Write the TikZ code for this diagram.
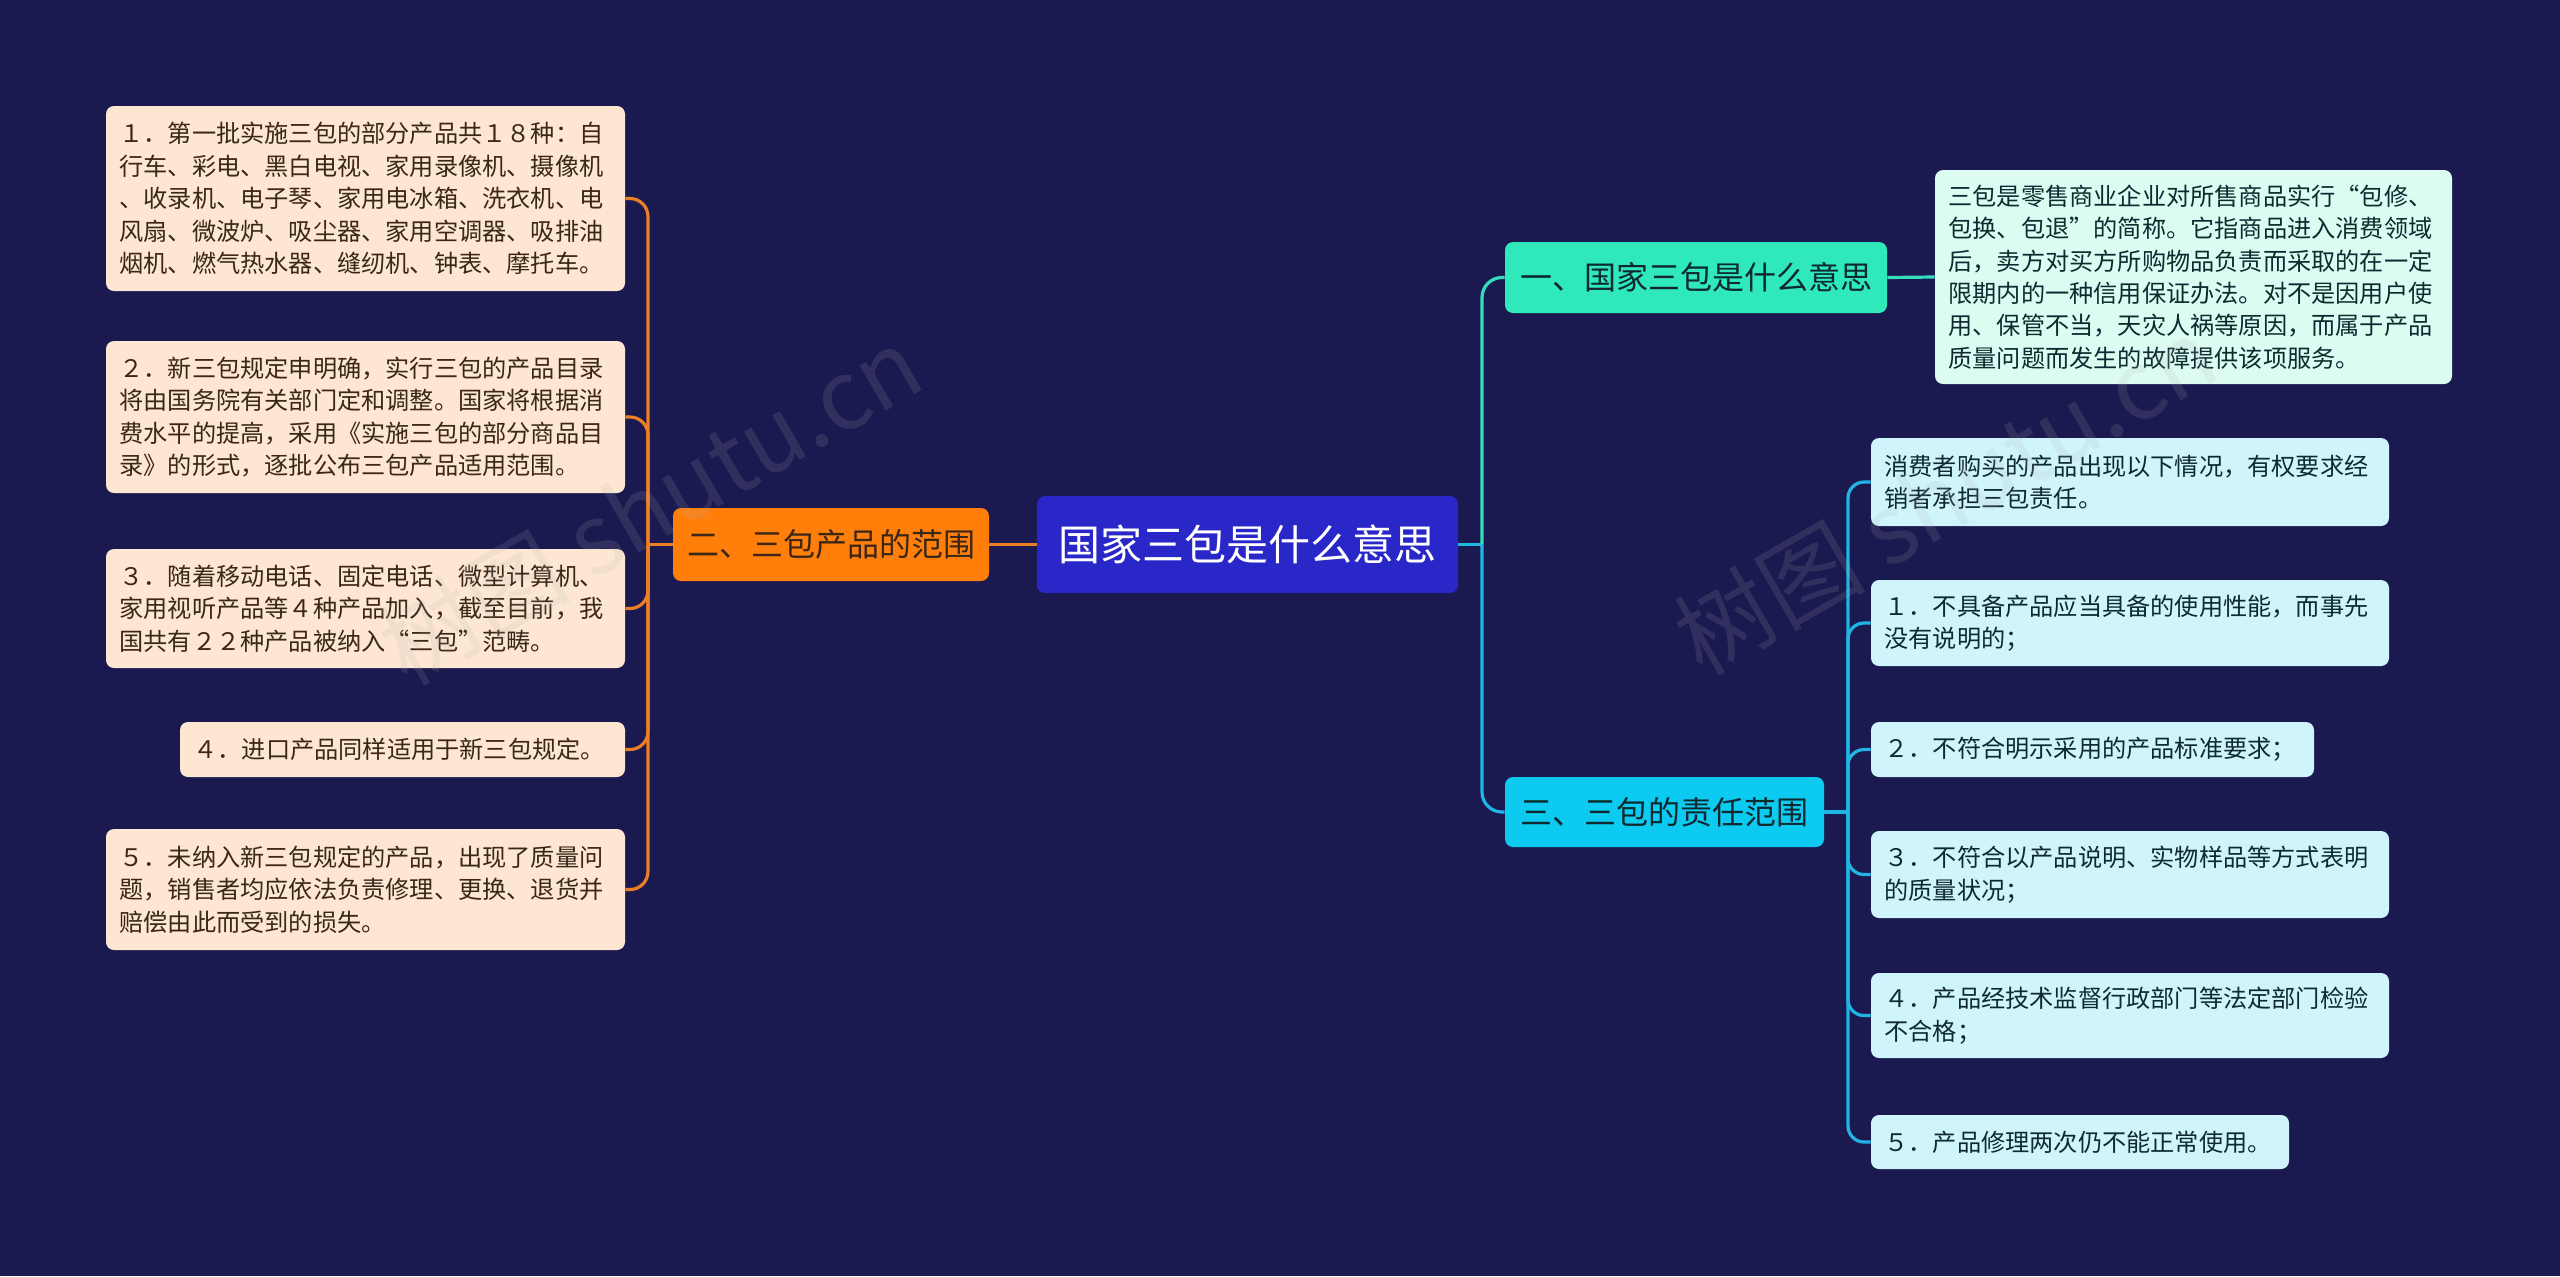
\documentclass[tikz,border=0pt]{standalone}
\usepackage{fontspec}
\newfontfamily\cjk{Noto Sans CJK SC}
\definecolor{bg}{HTML}{1A1950}
\definecolor{ctrfill}{HTML}{2A27C8}
\definecolor{orng}{HTML}{FF7F0A}
\definecolor{orline}{HTML}{EC7F26}
\definecolor{peach}{HTML}{FDE7D2}
\definecolor{brownT}{HTML}{3A2718}
\definecolor{grnfill}{HTML}{2FE9BA}
\definecolor{grline}{HTML}{34DDBD}
\definecolor{mint}{HTML}{DCFCF2}
\definecolor{cynfill}{HTML}{0CCAF0}
\definecolor{cyline}{HTML}{1FB6E6}
\definecolor{ice}{HTML}{CFF4FC}
\definecolor{darkT}{HTML}{0E2A30}
\tikzset{
  box/.style={rounded corners=4pt, inner ysep=0pt},
  leaftext/.style={font=\cjk\fontsize{12.1}{16.2}\selectfont, align=left, inner xsep=6.75pt},
  leafL/.style={box, leaftext, fill=peach, text=brownT},
  leafG/.style={box, leaftext, fill=mint, text=darkT},
  leafC/.style={box, leaftext, fill=ice, text=darkT},
  topic/.style={box, font=\cjk\fontsize{16}{19}\selectfont, inner xsep=0pt},
  oline/.style={draw=orline, line width=1.6pt},
  gline/.style={draw=grline, line width=1.6pt},
  cline/.style={draw=cyline, line width=1.6pt},
  wm/.style={font=\cjk\fontsize{48}{54}\selectfont, text=gray!60, opacity=0.15}
}
\begin{document}
\begin{tikzpicture}[x=0.5pt,y=-0.5pt]
\fill[bg] (0,0) rectangle (2560,1276);
\useasboundingbox (0,0) rectangle (2560,1276);

% central node
\node[box, fill=ctrfill, text=white, font=\cjk\fontsize{21}{24}\selectfont,
      minimum width=210.5pt, minimum height=48.5pt] (ctr) at (1247.5,544.5) {国家三包是什么意思};

% main topics
\node[topic, fill=orng, text=brownT, minimum width=158pt, minimum height=36.5pt] (orn) at (831,544.5) {二、三包产品的范围};
\node[topic, fill=grnfill, text=darkT, minimum width=191pt, minimum height=35.5pt] (grn) at (1696,277.5) {一、国家三包是什么意思};
\node[topic, fill=cynfill, text=darkT, minimum width=159.5pt, minimum height=35pt] (cyn) at (1664.5,812) {三、三包的责任范围};

% left leaves
\node[leafL, text width=246pt, minimum height=92.5pt] (L1) at (365.5,198.5) {１．第一批实施三包的部分产品共１８种：自\\行车、彩电、黑白电视、家用录像机、摄像机\\、收录机、电子琴、家用电冰箱、洗衣机、电\\风扇、微波炉、吸尘器、家用空调器、吸排油\\烟机、燃气热水器、缝纫机、钟表、摩托车。};
\node[leafL, text width=246pt, minimum height=76pt] (L2) at (365.5,417) {２．新三包规定申明确，实行三包的产品目录\\将由国务院有关部门定和调整。国家将根据消\\费水平的提高，采用《实施三包的部分商品目\\录》的形式，逐批公布三包产品适用范围。};
\node[leafL, text width=246pt, minimum height=59.5pt] (L3) at (365.5,608.5) {３．随着移动电话、固定电话、微型计算机、\\家用视听产品等４种产品加入，截至目前，我\\国共有２２种产品被纳入“三包”范畴。};
\node[leafL, text width=209pt, minimum height=27.5pt] (L4) at (402.5,749.5) {４．进口产品同样适用于新三包规定。};
\node[leafL, text width=246pt, minimum height=60.5pt] (L5) at (365.5,889.5) {５．未纳入新三包规定的产品，出现了质量问\\题，销售者均应依法负责修理、更换、退货并\\赔偿由此而受到的损失。};

% green leaf
\node[leafG, text width=245pt, minimum height=107pt] (G1) at (2193.5,277) {三包是零售商业企业对所售商品实行“包修、\\包换、包退”的简称。它指商品进入消费领域\\后，卖方对买方所购物品负责而采取的在一定\\限期内的一种信用保证办法。对不是因用户使\\用、保管不当，天灾人祸等原因，而属于产品\\质量问题而发生的故障提供该项服务。};

% cyan leaves
\node[leafC, text width=245.5pt, minimum height=44pt] (R0) at (2130,482) {消费者购买的产品出现以下情况，有权要求经\\销者承担三包责任。};
\node[leafC, text width=245.5pt, minimum height=43pt] (R1) at (2130,623) {１．不具备产品应当具备的使用性能，而事先\\没有说明的；};
\node[leafC, text width=208pt, minimum height=27.5pt] (R2) at (2092.5,749.5) {２．不符合明示采用的产品标准要求；};
\node[leafC, text width=245.5pt, minimum height=43.5pt] (R3) at (2130,874.5) {３．不符合以产品说明、实物样品等方式表明\\的质量状况；};
\node[leafC, text width=245.5pt, minimum height=42.5pt] (R4) at (2130,1015.5) {４．产品经技术监督行政部门等法定部门检验\\不合格；};
\node[leafC, text width=195.5pt, minimum height=27pt] (R5) at (2080,1142) {５．产品修理两次仍不能正常使用。};

% connectors - left
\coordinate (ob) at (648,544.5);
\draw[oline] (ctr.west) -- (orn.east);
\draw[oline] (orn.west) -- (ob);
\foreach \n in {L1,L2,L3,L4,L5}{
  \draw[oline, rounded corners=9pt] (ob) |- (\n.east);
}

% connectors - right
\coordinate (rb) at (1482,544.5);
\draw[cline] (ctr.east) -- (rb);
\draw[gline, rounded corners=10pt] (rb) |- (grn.west);
\draw[cline, rounded corners=10pt] (rb) |- (cyn.west);
\draw[gline] (grn.east) -- (G1.west);

\coordinate (cb) at (1848,812);
\draw[cline] (cyn.east) -- (cb);
\foreach \n in {R0,R1,R2,R3,R4,R5}{
  \draw[cline, rounded corners=8pt] (cb) |- (\n.west);
}

% watermark
\node[wm, rotate=30] (wm1) at (650,505) {树图 shutu.cn};
\node[wm, rotate=30] (wm2) at (1945,495) {树图 shutu.cn};
\end{tikzpicture}
\end{document}
